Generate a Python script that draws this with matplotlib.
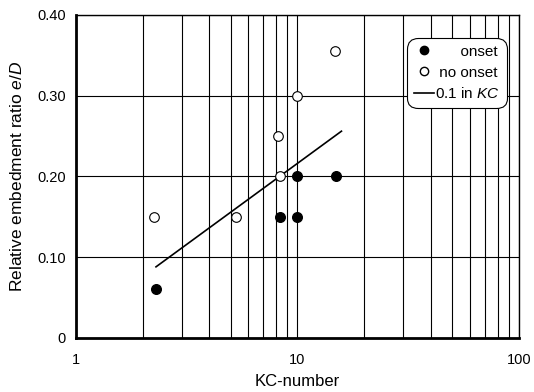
import matplotlib
matplotlib.use("Agg")
import matplotlib.pyplot as plt
from matplotlib.lines import Line2D

plt.rcParams["font.family"] = ["Liberation Sans", "DejaVu Sans"]
plt.rcParams["font.size"] = 10.5
plt.rcParams["mathtext.fontset"] = "custom"
plt.rcParams["mathtext.it"] = "Liberation Sans:italic"
plt.rcParams["mathtext.rm"] = "Liberation Sans"

# data
onset_kc = [2.3, 8.3, 10.0, 10.0, 15.0]
onset_ed = [0.06, 0.15, 0.15, 0.20, 0.20]
noonset_kc = [2.25, 5.3, 8.2, 8.3, 10.0, 14.8]
noonset_ed = [0.15, 0.15, 0.25, 0.20, 0.30, 0.355]
fit_kc = [2.3, 15.8]
fit_ed = [0.088, 0.256]

fig = plt.figure(figsize=(5.34, 3.92), dpi=100)
ax = fig.add_axes([0.142, 0.138, 0.830, 0.824])

ax.set_xscale("log")
ax.set_xlim(1, 100)
ax.set_ylim(0, 0.40)

ax.grid(True, which="both", axis="x", color="black", lw=0.8)
ax.grid(True, which="major", axis="y", color="black", lw=0.8)
ax.set_axisbelow(True)

ax.plot(fit_kc, fit_ed, color="black", lw=1.2, zorder=2)
ax.scatter(onset_kc, onset_ed, s=48, facecolor="black", edgecolor="black", zorder=3)
ax.scatter(noonset_kc, noonset_ed, s=48, facecolor="white", edgecolor="black",
           lw=0.8, zorder=3)

ax.set_xticks([1, 10, 100])
ax.set_xticklabels(["1", "10", "100"])
ax.set_yticks([0, 0.1, 0.2, 0.3, 0.4])
ax.set_yticklabels(["0", "0.10", "0.20", "0.30", "0.40"])
ax.tick_params(which="both", length=0)
ax.tick_params(axis="x", pad=11)
ax.tick_params(axis="y", pad=7)
for side in ax.spines.values():
    side.set_linewidth(1.0)
ax.spines["left"].set_linewidth(2.0)
ax.spines["bottom"].set_linewidth(2.0)

ax.set_xlabel("KC-number", labelpad=5, fontsize=12)
ax.set_ylabel("Relative embedment ratio $\\it{e/D}$", labelpad=9, fontsize=12.5)

handles = [
    Line2D([], [], ls="", marker="o", mfc="black", mec="black", ms=6),
    Line2D([], [], ls="", marker="o", mfc="white", mec="black", ms=6),
    Line2D([], [], color="black", lw=1.2),
]
labels = ["      onset", " no onset", "0.1 in $\\it{KC}$"]
leg = ax.legend(handles, labels, loc="upper right", bbox_to_anchor=(0.973, 0.929),
                borderaxespad=0, frameon=True, fancybox=True, edgecolor="black",
                framealpha=1, handlelength=1.3, handletextpad=0.1, borderpad=0.45,
                labelspacing=0.45, fontsize=11)
leg.get_frame().set_linewidth(0.8)
leg.get_frame().set_boxstyle("round,pad=0,rounding_size=0.7")

fig.savefig("out.png", dpi=100)
